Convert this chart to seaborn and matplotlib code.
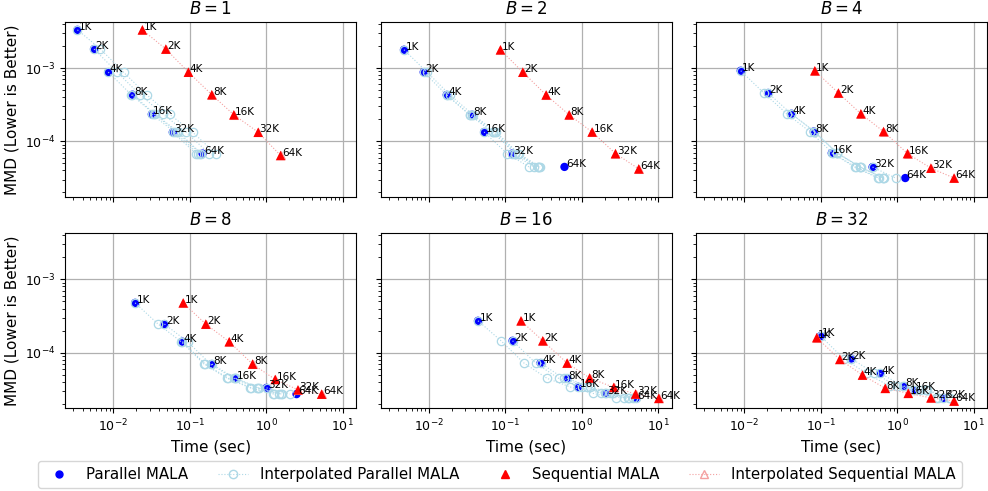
import numpy as np
import pandas as pd
import matplotlib
matplotlib.use("Agg")
import matplotlib.pyplot as plt
from matplotlib.lines import Line2D
import seaborn as sns

sample_labels = ["1K", "2K", "4K", "8K", "16K", "32K", "64K"]
batch_sizes = [1, 2, 4, 8, 16, 32]

# B = 1
par_time_1 = [0.0034, 0.0056, 0.0086, 0.0178, 0.0319, 0.060, 0.147]
par_mmd_1 = [3.33e-3, 1.82e-3, 8.8e-4, 4.33e-4, 2.34e-4, 1.33e-4, 6.8e-5]
seq_time_1 = [0.024, 0.0486, 0.096, 0.194, 0.377, 0.785, 1.54]
seq_mmd_1 = [3.33e-3, 1.82e-3, 8.8e-4, 4.33e-4, 2.3e-4, 1.33e-4, 6.4e-5]
interp_time_1 = [
    [0.0034, 0.0068, 0.0136, 0.0272, 0.0544, 0.109, 0.218],
    [0.0056, 0.0112, 0.0224, 0.0448, 0.0896, 0.179],
    [0.0086, 0.0172, 0.0344, 0.0688, 0.138],
    [0.0178, 0.0356, 0.0712, 0.142],
    [0.0319, 0.0638, 0.128],
    [0.060, 0.120],
]

# B = 2
par_time_2 = [0.00475, 0.0086, 0.0172, 0.0369, 0.053, 0.123, 0.596]
par_mmd_2 = [1.78e-3, 8.8e-4, 4.3e-4, 2.3e-4, 1.34e-4, 6.8e-5, 4.47e-5]
seq_time_2 = [0.0867, 0.17, 0.343, 0.686, 1.37, 2.77, 5.58]
seq_mmd_2 = [1.78e-3, 8.8e-4, 4.3e-4, 2.3e-4, 1.34e-4, 6.8e-5, 4.2e-5]
interp_time_2 = [
    [0.00475, 0.0095, 0.019, 0.038, 0.076, 0.15, 0.285],
    [0.0086, 0.0172, 0.0344, 0.0688, 0.136, 0.27],
    [0.0172, 0.0344, 0.0688, 0.136, 0.265],
    [0.0369, 0.0738, 0.145, 0.275],
    [0.053, 0.106, 0.205],
    [0.123, 0.24],
]

# B = 4
par_time_4 = [0.00903, 0.0206, 0.0416, 0.0815, 0.14, 0.478, 1.28]
par_mmd_4 = [9.2e-4, 4.57e-4, 2.38e-4, 1.36e-4, 6.9e-5, 4.45e-5, 3.15e-5]
seq_time_4 = [0.084, 0.171, 0.336, 0.665, 1.37, 2.77, 5.56]
seq_mmd_4 = [9.2e-4, 4.57e-4, 2.38e-4, 1.36e-4, 6.8e-5, 4.3e-5, 3.15e-5]
interp_time_4 = [
    [0.00903, 0.0181, 0.0361, 0.0722, 0.144, 0.289, 0.578],
    [0.0206, 0.0412, 0.0824, 0.165, 0.33, 0.66],
    [0.0416, 0.0832, 0.166, 0.333, 0.666],
    [0.0815, 0.163, 0.326, 0.652],
    [0.14, 0.28, 0.56],
    [0.478, 0.956],
]

# B = 8
par_time_8 = [0.0193, 0.0467, 0.080, 0.195, 0.40, 1.01, 2.49]
par_mmd_8 = [4.78e-4, 2.45e-4, 1.41e-4, 6.97e-5, 4.45e-5, 3.3e-5, 2.71e-5]
seq_time_8 = [0.082, 0.162, 0.328, 0.662, 1.31, 2.6, 5.3]
seq_mmd_8 = [4.78e-4, 2.45e-4, 1.41e-4, 6.97e-5, 4.3e-5, 3.1e-5, 2.71e-5]
interp_time_8 = [
    [0.0193, 0.0386, 0.0772, 0.154, 0.309, 0.618, 1.24],
    [0.0467, 0.0934, 0.187, 0.374, 0.747, 1.49],
    [0.080, 0.16, 0.32, 0.64, 1.28],
    [0.195, 0.39, 0.78, 1.56],
    [0.40, 0.80, 1.60],
    [1.01, 2.02],
]

# B = 16
par_time_16 = [0.0441, 0.125, 0.29, 0.645, 0.90, 2.05, 5.07]
par_mmd_16 = [2.72e-4, 1.45e-4, 7.2e-5, 4.45e-5, 3.4e-5, 2.77e-5, 2.37e-5]
seq_time_16 = [0.161, 0.31, 0.645, 1.27, 2.63, 5.07, 10.2]
seq_mmd_16 = [2.72e-4, 1.45e-4, 7.2e-5, 4.5e-5, 3.35e-5, 2.72e-5, 2.37e-5]
interp_time_16 = [
    [0.0441, 0.0882, 0.176, 0.353, 0.706, 1.41, 2.82],
    [0.125, 0.25, 0.50, 1.0, 2.0, 4.0],
    [0.29, 0.58, 1.16, 2.32, 4.64],
    [0.645, 1.29, 2.58, 5.16],
    [0.90, 1.80, 3.60],
    [2.05, 4.10],
]

# B = 32 (no parallel 64K run)
par_time_32 = [0.1, 0.252, 0.603, 1.24, 1.71, 4.07, np.nan]
par_mmd_32 = [1.68e-4, 8.3e-5, 5.2e-5, 3.48e-5, 3.07e-5, 2.41e-5, np.nan]
seq_time_32 = [0.089, 0.178, 0.353, 0.70, 1.40, 2.77, 5.56]
seq_mmd_32 = [1.6e-4, 8.07e-5, 4.94e-5, 3.25e-5, 2.78e-5, 2.41e-5, 2.18e-5]
interp_time_32 = [
    [0.1, 0.2, 0.4, 0.8, 1.6, 3.2],
    [0.252, 0.504, 1.01, 2.02, 4.03],
    [0.603, 1.21, 2.41, 4.82],
    [1.24, 2.48, 4.96],
    [1.71, 3.42],
]

panels = [
    (par_time_1, par_mmd_1, seq_time_1, seq_mmd_1, interp_time_1),
    (par_time_2, par_mmd_2, seq_time_2, seq_mmd_2, interp_time_2),
    (par_time_4, par_mmd_4, seq_time_4, seq_mmd_4, interp_time_4),
    (par_time_8, par_mmd_8, seq_time_8, seq_mmd_8, interp_time_8),
    (par_time_16, par_mmd_16, seq_time_16, seq_mmd_16, interp_time_16),
    (par_time_32, par_mmd_32, seq_time_32, seq_mmd_32, interp_time_32),
]

fig, axes = plt.subplots(2, 3, figsize=(9.88, 4.91), dpi=100, sharex=True, sharey=True)

for ax, B, (par_t, par_m, seq_t, seq_m, interp) in zip(axes.flat, batch_sizes, panels):
    ax.set_xscale('log')
    ax.set_yscale('log')

    # parallel MALA points
    sns.scatterplot(x=par_t, y=par_m, ax=ax, color='blue', s=36, edgecolor='none',
                    zorder=2, legend=False)

    # interpolated parallel chains: each starts at one parallel run
    rows = []
    for start, chain in enumerate(interp):
        for k, t in enumerate(chain):
            rows.append({'time': t, 'mmd': par_m[start + k], 'chain': start})
    df_int = pd.DataFrame(rows)
    sns.lineplot(data=df_int, x='time', y='mmd', units='chain', estimator=None, sort=False,
                 ax=ax, color='lightblue', linestyle=':', lw=0.8, marker='o', markersize=6,
                 markerfacecolor='none', markeredgecolor='lightblue', markeredgewidth=0.9,
                 zorder=3, legend=False)

    # sequential MALA + its interpolation
    sns.lineplot(x=seq_t, y=seq_m, sort=False, estimator=None, ax=ax, color='#f4a0a0',
                 linestyle=':', lw=0.8, marker='^', markersize=6, markerfacecolor='none',
                 markeredgecolor='#f4a0a0', zorder=4, legend=False)
    sns.scatterplot(x=seq_t, y=seq_m, ax=ax, color='red', marker='^', s=48, edgecolor='none',
                    zorder=5, legend=False)

    for lab, t, m in zip(sample_labels, par_t, par_m):
        if np.isfinite(t):
            ax.annotate(lab, (t, m), xytext=(1, 2), textcoords='offset points',
                        fontsize=7.5, ha='left', va='center', zorder=6)
    for lab, t, m in zip(sample_labels, seq_t, seq_m):
        ax.annotate(lab, (t, m), xytext=(1, 2), textcoords='offset points',
                    fontsize=7.5, ha='left', va='center', zorder=6)

    ax.set_title(f'$B = {B}$', fontsize=12)
    ax.grid(True, which='major', color='#b0b0b0', lw=0.9)
    ax.set_axisbelow(True)
    ax.tick_params(labelsize=9)
    ax.set_xlabel('')
    ax.set_ylabel('')

axes[0, 0].set_xlim(2.35e-3, 15)
axes[0, 0].set_ylim(1.75e-5, 4.25e-3)

for ax in axes[1]:
    ax.set_xlabel('Time (sec)', fontsize=11)
for ax in axes[:, 0]:
    ax.set_ylabel('MMD (Lower is Better)', fontsize=11)

handles = [
    Line2D([], [], marker='o', color='blue', ls='none', markersize=5),
    Line2D([], [], marker='o', color='lightblue', ls=':', lw=0.8, markersize=6,
           markerfacecolor='none'),
    Line2D([], [], marker='^', color='red', ls='none', markersize=6),
    Line2D([], [], marker='^', color='#f4a0a0', ls=':', lw=0.8, markersize=6,
           markerfacecolor='none'),
]
labels = ['Parallel MALA', 'Interpolated Parallel MALA', 'Sequential MALA',
          'Interpolated Sequential MALA']
fig.legend(handles, labels, loc='lower center', ncol=4, bbox_to_anchor=(0.506, -0.01),
           fontsize=10.8, frameon=True)

fig.subplots_adjust(left=0.066, right=0.999, top=0.955, bottom=0.169, wspace=0.084, hspace=0.21)
fig.savefig('out.png', dpi=100)
